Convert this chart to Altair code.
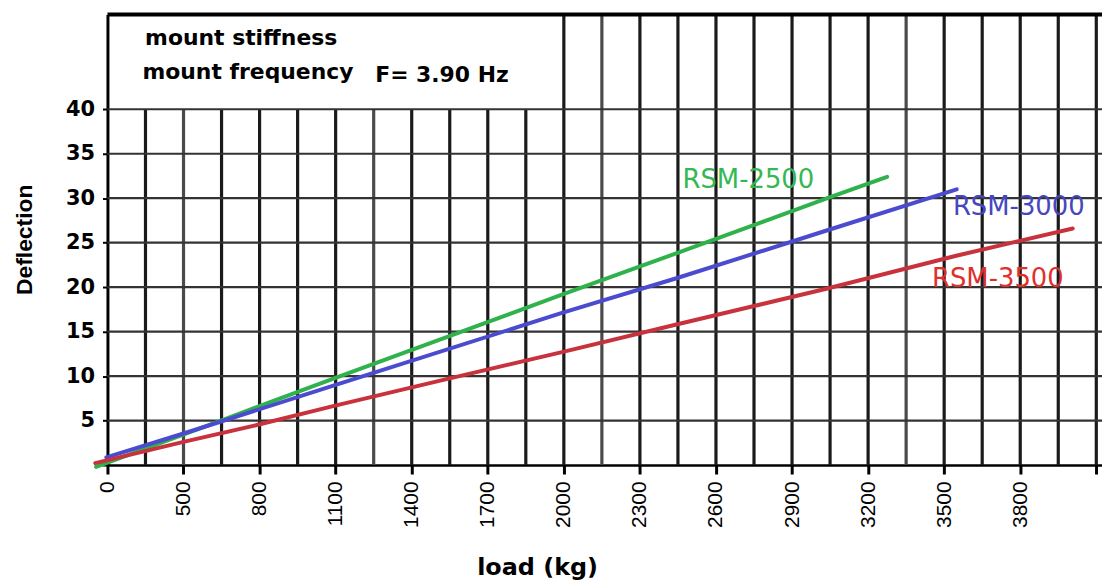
import altair as alt
import pandas as pd

# ---- axis / grid definitions (x in grid-interval units) ----
x_tick_pos = list(range(0, 27, 2))
x_tick_labels = ["0", "500", "800", "1100", "1400", "1700", "2000", "2300",
                 "2600", "2900", "3200", "3500", "3800", ""]
y_ticks = [0, 5, 10, 15, 20, 25, 30, 35, 40]
grid_short = list(range(1, 12))      # vertical lines that stop at 40
grid_tall = list(range(12, 27))      # vertical lines that reach the top border
grid_light = [2, 7, 13, 21]          # lines printed lighter
X_MAX = 26.15
Y_MAX = 50.65

# ---- series (grid position, deflection) ----
green_x = [-0.3, 3.02, 5.96, 11.95, 14.44, 18.93, 20.5]
green_y = [-0.2, 5.06, 9.75, 19.15, 23.0, 30.0, 32.4]
blue_x = [-0.03, 2.0, 5.96, 11.95, 14.96, 18.93, 22.33]
blue_y = [0.86, 3.55, 8.95, 17.1, 21.0, 26.4, 31.0]
red_x = [-0.32, 2.0, 3.93, 5.96, 8.86, 11.95, 14.96, 18.93, 22.29, 25.38]
red_y = [0.22, 2.6, 4.5, 6.65, 9.6, 12.7, 15.8, 19.85, 23.5, 26.6]

series_names = ["RSM-2500", "RSM-3000", "RSM-3500"]
line_colors = ["#2fb24c", "#4b4bd0", "#c8323c"]
label_colors = ["#35b853", "#4646c0", "#e0302c"]
label_x = [15.12, 22.23, 21.68]
label_y = [32.09, 28.96, 20.91]

box_texts = ["mount stiffness", "mount frequency", "F= 3.90 Hz"]
box_x = [0.99, 0.92, 7.04]
box_y = [47.96, 44.16, 43.8]

# ---- build tables ----
rows = []
for name, xs, ys in zip(series_names, [green_x, blue_x, red_x], [green_y, blue_y, red_y]):
    for a, b in zip(xs, ys):
        rows.append({"x": a, "y": b, "series": name})
lines_df = pd.DataFrame(rows)

vshort = pd.DataFrame({"x": grid_short, "y": [0] * len(grid_short), "y2": [40] * len(grid_short),
                       "c": ["#4a4a4a" if g in grid_light else "#1a1a1a" for g in grid_short]})
vtall = pd.DataFrame({"x": grid_tall, "y": [0] * len(grid_tall), "y2": [Y_MAX] * len(grid_tall),
                      "c": ["#4a4a4a" if g in grid_light else "#1a1a1a" for g in grid_tall]})
hgrid = pd.DataFrame({"y": y_ticks[1:], "x": [0] * 8, "x2": [X_MAX] * 8})
top_df = pd.DataFrame({"y": [Y_MAX], "x": [0], "x2": [X_MAX]})
labels_df = pd.DataFrame({"x": label_x, "y": label_y, "text": series_names, "c": label_colors})
box_df = pd.DataFrame({"x": box_x, "y": box_y, "text": box_texts})

label_js = "[" + ",".join("'%s'" % l for l in x_tick_labels) + "][round(datum.value/2)]"

x_axis = alt.Axis(values=x_tick_pos, labelExpr=label_js, labelAngle=-90,
                  labelFont="Liberation Sans", labelFontSize=21, labelColor="black",
                  tickSize=9, tickWidth=3, tickColor="black",
                  domainColor="black", domainWidth=2.5, grid=False,
                  labelPadding=7, title="load (kg)", titleFont="DejaVu Sans",
                  titleFontSize=24, titleFontWeight="bold", titleColor="black",
                  titleX=432, titleY=103, titleBaseline="middle", titleAlign="center")
y_axis = alt.Axis(values=y_ticks, labelExpr="datum.value == 0 ? '' : datum.label",
                  labelFont="DejaVu Sans", labelFontSize=21, labelFontWeight="bold",
                  labelColor="black", tickSize=5, tickColor="black", tickWidth=2,
                  domainColor="black", domainWidth=3, grid=False, labelPadding=8,
                  title="Deflection", titleFont="Liberation Sans", titleFontSize=23,
                  titleFontWeight="bold", titleColor="black", titleAngle=-90,
                  titleX=-83, titleY=226, titleBaseline="middle", titleAlign="center")

xs = alt.Scale(domain=[0, X_MAX], nice=False, zero=False)
ys = alt.Scale(domain=[0, Y_MAX], nice=False, zero=False)
X = alt.X("x:Q", scale=xs, axis=x_axis)
Y = alt.Y("y:Q", scale=ys, axis=y_axis)

v1 = alt.Chart(vshort).mark_rule(strokeWidth=3.2).encode(
    x=X, y=Y, y2="y2:Q", color=alt.Color("c:N", scale=None))
v2 = alt.Chart(vtall).mark_rule(strokeWidth=3.2).encode(
    x=X, y=Y, y2="y2:Q", color=alt.Color("c:N", scale=None))
h = alt.Chart(hgrid).mark_rule(strokeWidth=2.2, color="#333333").encode(x=X, x2="x2:Q", y=Y)
top = alt.Chart(top_df).mark_rule(strokeWidth=4, color="black").encode(x=X, x2="x2:Q", y=Y)

lines = alt.Chart(lines_df).mark_line(strokeWidth=4, strokeCap="round", clip=False).encode(
    x=X, y=Y,
    color=alt.Color("series:N", scale=alt.Scale(domain=series_names, range=line_colors), legend=None),
)

lab = alt.Chart(labels_df).mark_text(font="DejaVu Sans", fontSize=26, align="left",
                                     baseline="middle").encode(
    x=X, y=Y, text="text:N", color=alt.Color("c:N", scale=None))

box = alt.Chart(box_df).mark_text(font="DejaVu Sans", fontSize=22, fontWeight="bold",
                                  align="left", baseline="middle", color="black").encode(
    x=X, y=Y, text="text:N")

chart = alt.layer(v1, v2, h, top, lines, lab, box).properties(
    width=1000, height=453,
    padding={"left": 100, "top": 5, "right": 0, "bottom": 115},
    autosize=alt.AutoSizeParams(type="none"),
    background="white",
).configure_view(stroke=None)

chart.save("out.html", embed_options={"renderer": "svg", "actions": False})
